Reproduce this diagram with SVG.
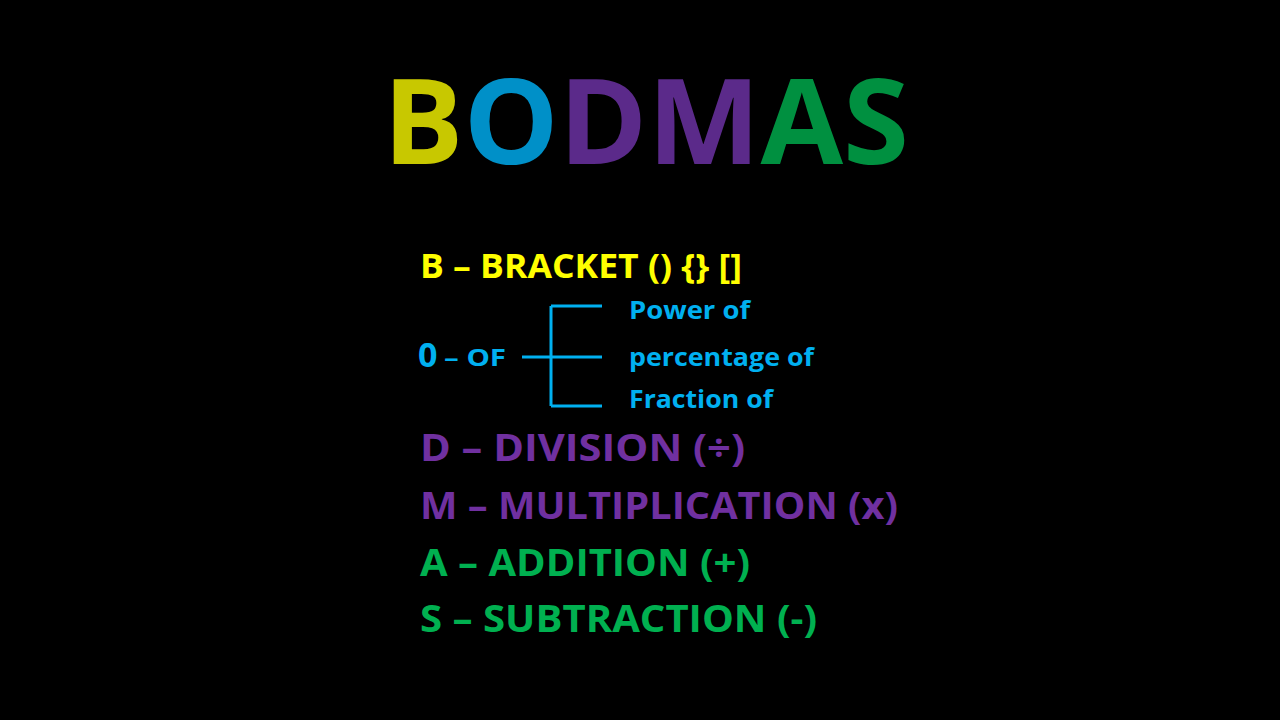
<svg xmlns="http://www.w3.org/2000/svg" width="1280" height="720" viewBox="0 0 1280 720">
<style>
text{font-family:"Open Sans","Liberation Sans",sans-serif;font-weight:bold}
.t{font-size:118px}
.l{font-size:34px}
.k{font-size:38px}
.s{font-size:25px;fill:#00b0f0}
.br{stroke:#00b0f0;stroke-width:3;fill:none}
</style>
<rect width="1280" height="720" fill="#000"/>
<g id="title">
<text class="t" y="164" textLength="526" lengthAdjust="spacingAndGlyphs" x="383"><tspan fill="#c8c800">B</tspan><tspan fill="#0090c8">O</tspan><tspan fill="#5b2a8a">DM</tspan><tspan fill="#009040">AS</tspan></text>
</g>
<g id="b"><text class="l" x="420" y="278" fill="#ffff00" textLength="322" lengthAdjust="spacingAndGlyphs">B – BRACKET () {} []</text></g>
<g id="o">
<text x="418" y="367" fill="#00b0f0" font-size="34">0</text>
<text x="444" y="366" fill="#00b0f0" font-size="24" textLength="62" lengthAdjust="spacingAndGlyphs">– OF</text>
</g>
<g id="connectors">
<path class="br" d="M522 357H551M551 306V406M551 306H602M551 357H602M551 406H602"/>
</g>
<g id="power"><text class="s" x="629" y="319" textLength="121" lengthAdjust="spacingAndGlyphs">Power of</text></g>
<g id="percentage"><text class="s" x="629" y="366" textLength="185" lengthAdjust="spacingAndGlyphs">percentage of</text></g>
<g id="fraction"><text class="s" x="629" y="408" textLength="144" lengthAdjust="spacingAndGlyphs">Fraction of</text></g>
<g id="d"><text class="k" x="420" y="461" fill="#7030a0" textLength="325" lengthAdjust="spacingAndGlyphs">D – DIVISION (÷)</text></g>
<g id="m"><text class="k" x="420" y="519" fill="#7030a0" textLength="478" lengthAdjust="spacingAndGlyphs">M – MULTIPLICATION (x)</text></g>
<g id="a"><text class="k" x="420" y="576" fill="#00b050" textLength="330" lengthAdjust="spacingAndGlyphs">A – ADDITION (+)</text></g>
<g id="s"><text class="k" x="420" y="632" fill="#00b050" textLength="397" lengthAdjust="spacingAndGlyphs">S – SUBTRACTION (-)</text></g>
</svg>
